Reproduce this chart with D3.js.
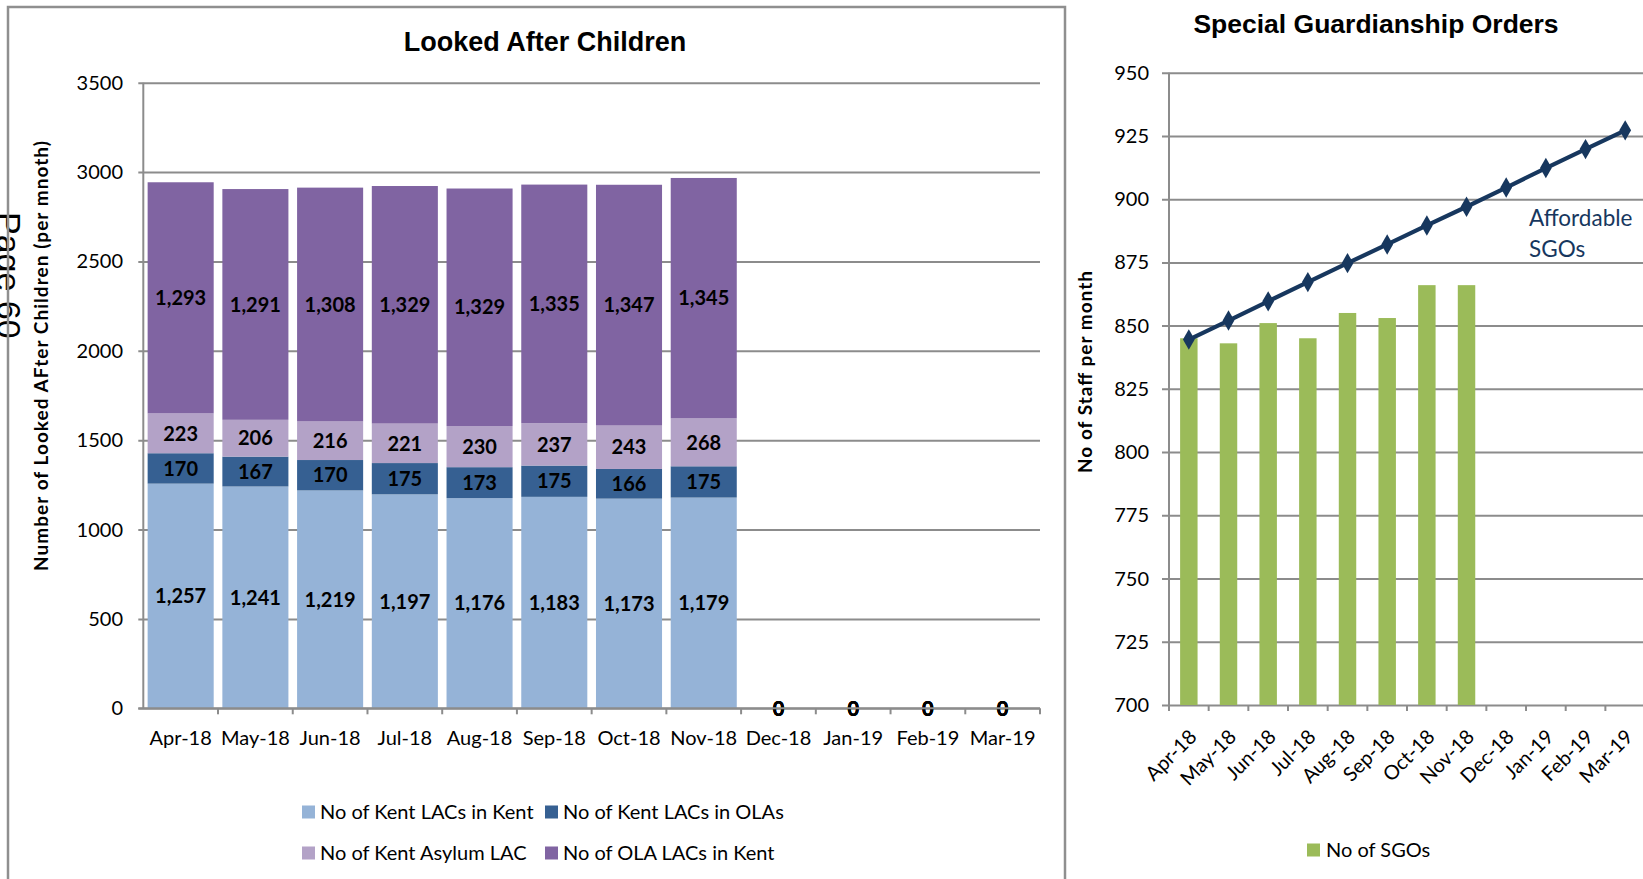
<!DOCTYPE html>
<html>
<head>
<meta charset="utf-8">
<script src="https://cdn.jsdelivr.net/npm/d3@7"></script>
<style>
  html, body { margin: 0; padding: 0; background: #fff; overflow: hidden; }
  svg { display: block; }
  text { font-family: Lato, "Open Sans", sans-serif; fill: #000; }
</style>
</head>
<body>
<svg id="chart" width="1643" height="879"></svg>
<script>
// ---- Looked After Children (stacked monthly counts) ----
const months = ["Apr-18", "May-18", "Jun-18", "Jul-18", "Aug-18", "Sep-18",
                "Oct-18", "Nov-18", "Dec-18", "Jan-19", "Feb-19", "Mar-19"];
const kentLACsInKent = [1257, 1241, 1219, 1197, 1176, 1183, 1173, 1179, 0, 0, 0, 0];
const kentLACsInOLAs = [170, 167, 170, 175, 173, 175, 166, 175, 0, 0, 0, 0];
const kentAsylumLAC  = [223, 206, 216, 221, 230, 237, 243, 268, 0, 0, 0, 0];
const olaLACsInKent  = [1293, 1291, 1308, 1329, 1329, 1335, 1347, 1345, 0, 0, 0, 0];
const lacSeriesNames = ["No of Kent LACs in Kent", "No of Kent LACs in OLAs",
                        "No of Kent Asylum LAC", "No of OLA LACs in Kent"];
const lacColors = ["#95B3D7", "#366092", "#B3A2C7", "#8064A2"];
const lacTicks = [0, 500, 1000, 1500, 2000, 2500, 3000, 3500];

// ---- Special Guardianship Orders ----
const sgoCounts = [845, 843, 851, 845, 855, 853, 866, 866];
const affordableSGOs = [844.5, 852, 859.6, 867.2, 874.7, 882.1, 889.6, 897, 904.6, 912.3, 919.8, 927.2];
const sgoTicks = [700, 725, 750, 775, 800, 825, 850, 875, 900, 925, 950];

const svg = d3.select("#chart");
const gridColor = "#8c8c8c";
const fmt = d3.format(",");

// Page number printed down the left margin
svg.append("text")
  .attr("transform", "translate(-3,212) rotate(90)")
  .style("font-family", "'Liberation Sans', Arial, sans-serif")
  .style("font-size", "34px")
  .text("Page 60");

// Frame around the left chart
svg.append("rect")
  .attr("x", 8).attr("y", 7).attr("width", 1057).attr("height", 900)
  .attr("fill", "none").attr("stroke", "#8f8f8f").attr("stroke-width", 2.5);

// ===================== Left chart =====================
const L = { x0: 143.3, x1: 1040, yTop: 82.7, yBot: 708.3 };
const xL = d3.scaleBand().domain(months).range([L.x0, L.x1])
  .paddingInner(0.116).paddingOuter(0.058);
const yL = d3.scaleLinear().domain([0, 3500]).range([L.yBot, L.yTop]);

const gL = svg.append("g");

// gridlines with short outer ticks
gL.append("g").attr("transform", `translate(${L.x0},0)`)
  .call(d3.axisLeft(yL).tickValues(lacTicks).tickSize(-(L.x1 - L.x0)).tickSizeOuter(0).tickFormat(""))
  .call(g => g.select(".domain").remove())
  .call(g => g.selectAll("line").attr("stroke", gridColor).attr("stroke-width", 2).attr("x1", -5));

gL.append("g").selectAll("text").data(lacTicks).join("text")
  .attr("x", 123).attr("y", d => yL(d)).attr("dy", "0.35em")
  .attr("text-anchor", "end").style("font-size", "20px").text(d => d);

const lacRows = months.map((m, i) => ({
  month: m,
  [lacSeriesNames[0]]: kentLACsInKent[i],
  [lacSeriesNames[1]]: kentLACsInOLAs[i],
  [lacSeriesNames[2]]: kentAsylumLAC[i],
  [lacSeriesNames[3]]: olaLACsInKent[i]
}));
const stacked = d3.stack().keys(lacSeriesNames)(lacRows);

const layers = gL.append("g").selectAll("g").data(stacked).join("g")
  .attr("fill", (d, i) => lacColors[i]);
layers.selectAll("rect").data(d => d).join("rect")
  .attr("x", d => xL(d.data.month))
  .attr("width", xL.bandwidth())
  .attr("y", d => yL(d[1]))
  .attr("height", d => yL(d[0]) - yL(d[1]));

// axis lines
gL.append("line").attr("x1", L.x0).attr("x2", L.x0).attr("y1", L.yTop).attr("y2", L.yBot)
  .attr("stroke", gridColor).attr("stroke-width", 2);
gL.append("line").attr("x1", L.x0 - 5).attr("x2", L.x1).attr("y1", L.yBot).attr("y2", L.yBot)
  .attr("stroke", gridColor).attr("stroke-width", 2);
gL.append("g").selectAll("line").data(months).join("line")
  .attr("x1", (d, i) => L.x0 + (i + 1) * xL.step())
  .attr("x2", (d, i) => L.x0 + (i + 1) * xL.step())
  .attr("y1", L.yBot).attr("y2", L.yBot + 6)
  .attr("stroke", gridColor).attr("stroke-width", 2);

// data labels (segment centres)
layers.each(function (series) {
  d3.select(this).selectAll("text").data(series).join("text")
    .attr("x", d => xL(d.data.month) + xL.bandwidth() / 2)
    .attr("y", d => yL((d[0] + d[1]) / 2))
    .attr("dy", "0.36em")
    .attr("text-anchor", "middle")
    .style("font-size", "20px").style("font-weight", "bold")
    .text(d => fmt(d[1] - d[0]));
});

// category labels
gL.append("g").selectAll("text").data(months).join("text")
  .attr("x", d => xL(d) + xL.bandwidth() / 2).attr("y", 738).attr("dy", "0.35em")
  .attr("text-anchor", "middle").style("font-size", "20px").text(d => d);

// title
svg.append("text").attr("x", 545).attr("y", 51).attr("text-anchor", "middle")
  .style("font-family", "'Liberation Sans Narrow', 'Arial Narrow', sans-serif")
  .style("font-size", "27px").style("font-weight", "bold")
  .text("Looked After  Children");

// y axis title
svg.append("text").attr("transform", "translate(41,356) rotate(-90)")
  .attr("text-anchor", "middle").attr("dy", "0.35em")
  .attr("textLength", 430).attr("lengthAdjust", "spacing")
  .style("font-size", "19px").style("font-weight", "bold")
  .text("Number of Looked AFter Children (per mnoth)");

// legend
const legendPos = [[302, 812], [545, 812], [302, 853], [545, 853]];
const lg = svg.append("g").selectAll("g").data(lacSeriesNames).join("g")
  .attr("transform", (d, i) => `translate(${legendPos[i][0]},${legendPos[i][1]})`);
lg.append("rect").attr("x", 0).attr("y", -6.5).attr("width", 13).attr("height", 13)
  .attr("fill", (d, i) => lacColors[i]);
lg.append("text").attr("x", 18).attr("dy", "0.35em").style("font-size", "20px").text(d => d);

// ===================== Right chart =====================
const R = { x0: 1169, x1: 1169 + 12 * 39.67, yTop: 72.7, yBot: 705 };
const xR = d3.scaleBand().domain(months).range([R.x0, R.x1])
  .paddingInner(0.56).paddingOuter(0.28);
const yR = d3.scaleLinear().domain([700, 950]).range([R.yBot, R.yTop]);
const gR = svg.append("g");

gR.append("g").attr("transform", `translate(${R.x0},0)`)
  .call(d3.axisLeft(yR).tickValues(sgoTicks).tickSize(-(R.x1 - R.x0)).tickSizeOuter(0).tickFormat(""))
  .call(g => g.select(".domain").remove())
  .call(g => g.selectAll("line").attr("stroke", gridColor).attr("stroke-width", 2).attr("x1", -7));

gR.append("g").selectAll("text").data(sgoTicks).join("text")
  .attr("x", 1149).attr("y", d => yR(d)).attr("dy", "0.35em")
  .attr("text-anchor", "end").style("font-size", "20px").text(d => d);

gR.append("g").selectAll("rect").data(sgoCounts).join("rect")
  .attr("x", (d, i) => xR(months[i]))
  .attr("width", xR.bandwidth())
  .attr("y", d => yR(d))
  .attr("height", d => yR(700) - yR(d))
  .attr("fill", "#9BBB59");

gR.append("line").attr("x1", R.x0).attr("x2", R.x0).attr("y1", R.yTop).attr("y2", R.yBot)
  .attr("stroke", gridColor).attr("stroke-width", 2);
gR.append("g").selectAll("line").data(months).join("line")
  .attr("x1", (d, i) => R.x0 + i * xR.step())
  .attr("x2", (d, i) => R.x0 + i * xR.step())
  .attr("y1", R.yBot).attr("y2", R.yBot + 6)
  .attr("stroke", gridColor).attr("stroke-width", 2);

const cx = m => xR(m) + xR.bandwidth() / 2;
gR.append("path").datum(affordableSGOs)
  .attr("fill", "none").attr("stroke", "#17375E").attr("stroke-width", 4.2)
  .attr("d", d3.line().x((d, i) => cx(months[i])).y(d => yR(d)));
gR.append("g").selectAll("path").data(affordableSGOs).join("path")
  .attr("transform", (d, i) => `translate(${cx(months[i])},${yR(d)})`)
  .attr("d", d3.symbol(d3.symbolDiamond, 120)())
  .attr("fill", "#17375E");

gR.append("g").selectAll("text").data(months).join("text")
  .attr("transform", d => `translate(${cx(d) + 9},${R.yBot + 33}) rotate(-45)`)
  .attr("text-anchor", "end").style("font-size", "20px").text(d => d);

svg.append("text").attr("x", 1529).attr("y", 218).attr("dy", "0.35em")
  .style("font-size", "22.5px").style("fill", "#17375E").text("Affordable");
svg.append("text").attr("x", 1529).attr("y", 249).attr("dy", "0.35em")
  .style("font-size", "22.5px").style("fill", "#17375E").text("SGOs");

svg.append("text").attr("x", 1376).attr("y", 33).attr("text-anchor", "middle")
  .style("font-family", "'Liberation Sans', Arial, sans-serif")
  .style("font-size", "26.5px").style("font-weight", "bold")
  .text("Special Guardianship Orders");

svg.append("text").attr("transform", "translate(1085,372) rotate(-90)")
  .attr("text-anchor", "middle").attr("dy", "0.35em")
  .attr("textLength", 202).attr("lengthAdjust", "spacing")
  .style("font-size", "19px").style("font-weight", "bold")
  .text("No of Staff per month");

const rl = svg.append("g").attr("transform", "translate(1307,850)");
rl.append("rect").attr("y", -6.5).attr("width", 13).attr("height", 13).attr("fill", "#9BBB59");
rl.append("text").attr("x", 19).attr("dy", "0.35em").style("font-size", "20px").text("No of SGOs");
</script>
</body>
</html>
